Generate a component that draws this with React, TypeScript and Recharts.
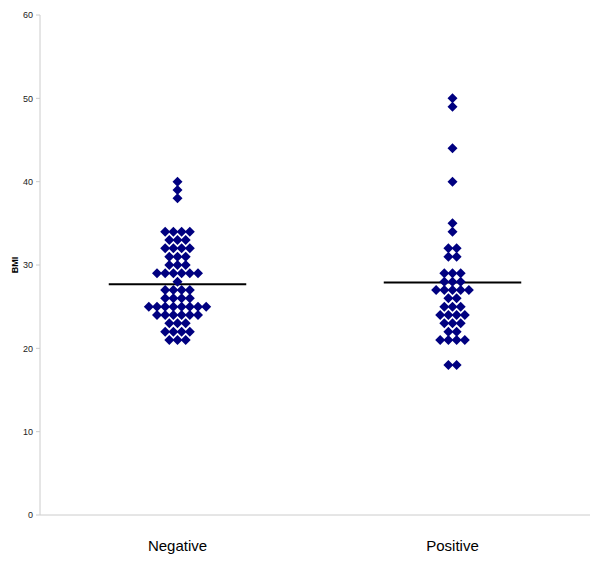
import { ScatterChart, Scatter, XAxis, YAxis, ReferenceLine } from 'recharts';

const categories = ['Negative', 'Positive'];

// BMI readings per group
const negativeBmi = [
  40, 39, 38,
  34, 34, 34, 34,
  33, 33, 33,
  32, 32, 32, 32,
  31, 31, 31,
  30, 30, 30,
  29, 29, 29, 29, 29, 29,
  28,
  27, 27, 27, 27,
  26, 26, 26, 26,
  25, 25, 25, 25, 25, 25, 25, 25,
  24, 24, 24, 24, 24, 24,
  23, 23, 23,
  22, 22, 22, 22,
  21, 21, 21,
];

const positiveBmi = [
  50, 49, 44, 40, 35, 34,
  32, 32,
  31, 31,
  29, 29, 29,
  28, 28, 28,
  27, 27, 27, 27, 27,
  26, 26,
  25, 25, 25,
  24, 24, 24, 24,
  23, 23, 23,
  22, 22,
  21, 21, 21, 21,
  18, 18,
];

// group means (horizontal bars)
const groupMeans = [27.7, 27.9];

const yTicks = [0, 10, 20, 30, 40, 50, 60];

const DOT_GAP = 8.2;
const HALF = 5;
const NAVY = '#000080';

type Dot = { x: number; y: number; slot: number };

function toDots(values: number[], groupIndex: number): Dot[] {
  const counts = new Map<number, number>();
  values.forEach((v) => counts.set(v, (counts.get(v) || 0) + 1));
  const dots: Dot[] = [];
  counts.forEach((n, v) => {
    for (let i = 0; i < n; i++) {
      dots.push({ x: groupIndex + 0.5, y: v, slot: i - (n - 1) / 2 });
    }
  });
  return dots;
}

const negativeDots = toDots(negativeBmi, 0);
const positiveDots = toDots(positiveBmi, 1);

function Diamond(props: any) {
  const { cx, cy, payload } = props;
  if (cx == null || cy == null) return null;
  const x = cx + (payload?.slot || 0) * DOT_GAP;
  const pts = `${x},${cy - HALF} ${x + HALF},${cy} ${x},${cy + HALF} ${x - HALF},${cy}`;
  return <polygon points={pts} fill={NAVY} />;
}

export default function App() {
  return (
    <div style={{ width: 600, height: 565, fontFamily: '"Liberation Sans", Arial, sans-serif' }}>
      <style>{'body{margin:0}'}</style>
      <ScatterChart width={600} height={565} margin={{ top: 15, right: 10, bottom: 0, left: 0 }}>
        <XAxis
          type="number"
          dataKey="x"
          domain={[0, 2]}
          ticks={[0.5, 1.5]}
          tickFormatter={(v: number) => categories[Math.floor(v)]}
          axisLine={{ stroke: '#cccccc' }}
          tickLine={false}
          tickMargin={19}
          height={50}
          tick={{ fontSize: 15, fill: '#000' }}
        />
        <YAxis
          type="number"
          dataKey="y"
          domain={[0, 60]}
          ticks={yTicks}
          width={40}
          tickSize={4}
          tickMargin={3}
          axisLine={{ stroke: '#cccccc' }}
          tickLine={{ stroke: '#cccccc' }}
          tick={{ fontSize: 9, fill: '#222' }}
          label={{
            value: 'BMI',
            angle: -90,
            position: 'insideLeft',
            offset: 15,
            style: { fontSize: 9, fontWeight: 'bold', fill: '#000', textAnchor: 'middle' },
          }}
        />
        <Scatter data={negativeDots} shape={Diamond} isAnimationActive={false} />
        <Scatter data={positiveDots} shape={Diamond} isAnimationActive={false} />
        {groupMeans.map((m, i) => (
          <ReferenceLine
            key={categories[i]}
            segment={[
              { x: i + 0.25, y: m },
              { x: i + 0.75, y: m },
            ]}
            stroke="#000"
            strokeWidth={2}
          />
        ))}
      </ScatterChart>
    </div>
  );
}
